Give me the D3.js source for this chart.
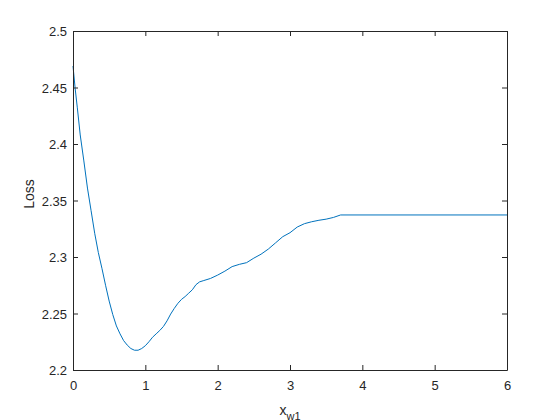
<!DOCTYPE html>
<html>
<head>
<meta charset="utf-8">
<script src="https://cdn.jsdelivr.net/npm/d3@7"></script>
<style>
body { margin: 0; background: #fff; }
text { font-family: Arial, "Liberation Sans", sans-serif; fill: #262626; }
</style>
</head>
<body>
<svg width="560" height="420"></svg>
<script>
// loss curve
var lossX = [0, 0.03, 0.06, 0.1, 0.15, 0.2, 0.25, 0.3, 0.35, 0.4, 0.45, 0.5, 0.55, 0.6, 0.65, 0.7, 0.75, 0.8, 0.85, 0.9, 0.95,
    1.0, 1.05, 1.1, 1.15, 1.2, 1.25, 1.3, 1.35, 1.4, 1.45, 1.5, 1.55, 1.6, 1.65, 1.7, 1.75, 1.8, 1.9,
    2.0, 2.1, 2.2, 2.3, 2.4, 2.5, 2.6, 2.7, 2.8, 2.9, 3.0, 3.1, 3.2, 3.3, 3.4, 3.5, 3.6, 3.7, 6];
var lossY = [2.469, 2.449, 2.432, 2.408, 2.385, 2.361, 2.341, 2.321, 2.304, 2.290, 2.275, 2.261, 2.249, 2.239, 2.232, 2.226, 2.222, 2.219, 2.2175, 2.2175, 2.219,
    2.2215, 2.225, 2.229, 2.232, 2.235, 2.2385, 2.2435, 2.2495, 2.2545, 2.259, 2.2625, 2.265, 2.268, 2.271, 2.2755, 2.278, 2.279, 2.281,
    2.284, 2.2875, 2.2915, 2.2935, 2.295, 2.299, 2.3025, 2.307, 2.3125, 2.318, 2.3215, 2.3265, 2.3295, 2.3312, 2.3325, 2.3335, 2.335, 2.3372, 2.3372];
var xTicks = [0, 1, 2, 3, 4, 5, 6];
var yTicks = [2.2, 2.25, 2.3, 2.35, 2.4, 2.45, 2.5];

var svg = d3.select("svg"),
    plotLeft = 73, plotRight = 507, plotTop = 31, plotBottom = 370;

var x = d3.scaleLinear().domain([0, 6]).range([plotLeft, plotRight]);
var y = d3.scaleLinear().domain([2.2, 2.5]).range([plotBottom, plotTop]);

svg.append("rect").attr("width", 560).attr("height", 420).attr("fill", "#fff");

var data = lossX.map(function (d, i) { return [d, lossY[i]]; });

svg.append("path")
    .datum(data)
    .attr("fill", "none")
    .attr("stroke", "#0072BD")
    .attr("stroke-width", 1)
    .attr("d", d3.line().x(function (d) { return x(d[0]); }).y(function (d) { return y(d[1]); }));

function styleAxis(g) {
    g.select(".domain").attr("stroke", "#262626");
    g.selectAll(".tick line").attr("stroke", "#262626");
    g.selectAll(".tick text").attr("font-size", 13).attr("fill", "#262626")
        .attr("font-family", "Arial, 'Liberation Sans', sans-serif");
}

var xAxis = svg.append("g")
    .attr("transform", "translate(0," + plotBottom + ")")
    .call(d3.axisBottom(x).tickValues(xTicks).tickSize(-5).tickSizeOuter(0).tickPadding(11).tickFormat(d3.format("d")))
    .call(styleAxis);
svg.append("g")
    .attr("transform", "translate(0," + plotTop + ")")
    .call(d3.axisTop(x).tickValues(xTicks).tickSize(-5).tickSizeOuter(0).tickFormat(""))
    .call(styleAxis);
var yAxis = svg.append("g")
    .attr("transform", "translate(" + plotLeft + ",0)")
    .call(d3.axisLeft(y).tickValues(yTicks).tickSize(-5).tickSizeOuter(0).tickPadding(6).tickFormat(d3.format("")))
    .call(styleAxis);
svg.append("g")
    .attr("transform", "translate(" + plotRight + ",0)")
    .call(d3.axisRight(y).tickValues(yTicks).tickSize(-5).tickSizeOuter(0).tickFormat(""))
    .call(styleAxis);

yAxis.selectAll(".tick text").attr("dy", "0.35em");
xAxis.selectAll(".tick text").attr("dy", "0.71em");

svg.append("text")
    .attr("transform", "translate(34,194) rotate(-90)")
    .attr("text-anchor", "middle")
    .attr("font-size", 14)
    .text("Loss");

var xl = svg.append("text")
    .attr("x", (plotLeft + plotRight) / 2)
    .attr("y", 415)
    .attr("text-anchor", "middle")
    .attr("font-size", 14);
xl.append("tspan").text("x");
xl.append("tspan").attr("font-size", 11).attr("dy", 5).text("w1");
</script>
</body>
</html>
